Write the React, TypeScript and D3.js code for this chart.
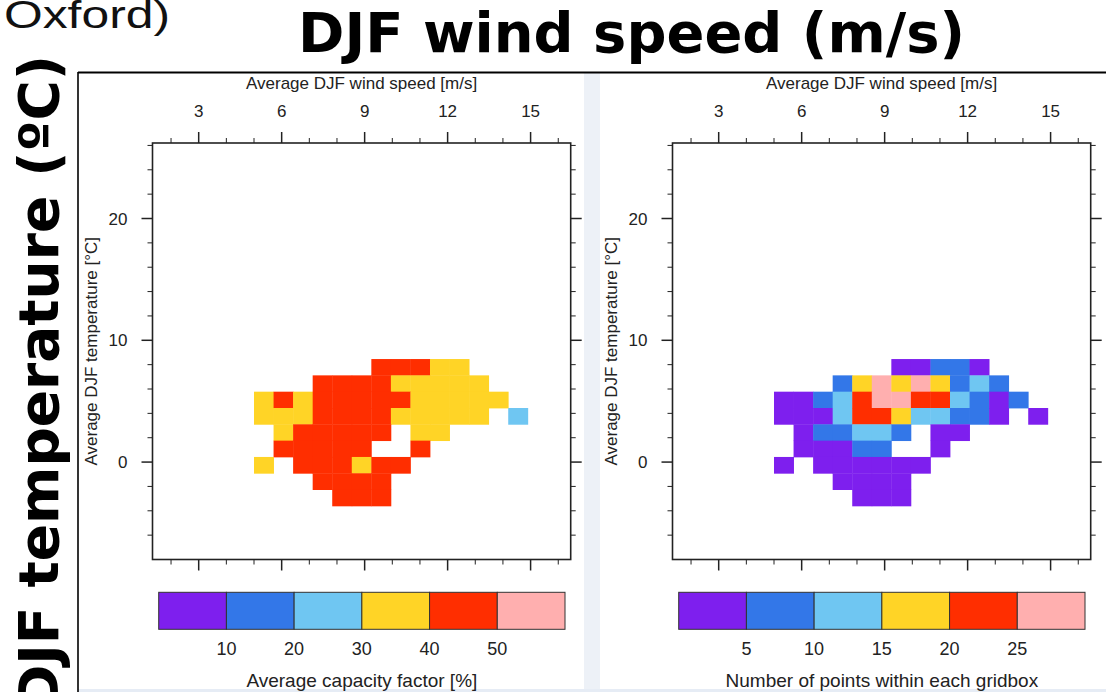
import React from "react";
import * as d3 from "d3";

const _ = null;

// wind speed (m/s) and temperature (degC) axes
const windTicks = [3, 6, 9, 12, 15];
const tempTicks = [0, 10, 20];
const windDomain = [1.33, 16.45];
const tempDomain = [-8, 26.2];

// gridbox layout (data units)
const binX0 = 5.0;
const binW = 0.707;
const binTop = 8.46;
const binH = 1.34;

// average capacity factor [%] per gridbox, rows from warm to cold
const capacityRows = [
  [_, _, _, _, _, _, 45, 45, 45, 35, 35, _, _, _],
  [_, _, _, 45, 45, 45, 45, 35, 35, 35, 35, 35, _, _],
  [35, 45, 35, 45, 45, 45, 45, 45, 35, 35, 35, 35, 35, _],
  [35, 35, 35, 45, 45, 45, 45, 35, 35, 35, 35, 35, _, 25],
  [_, 35, 45, 45, 45, 45, 45, _, 35, 35, _, _, _, _],
  [_, 45, 45, 45, 45, 45, _, _, 45, _, _, _, _, _],
  [35, _, 45, 45, 45, 35, 45, 45, _, _, _, _, _, _],
  [_, _, _, 45, 45, 45, 45, _, _, _, _, _, _, _],
  [_, _, _, _, 45, 45, 45, _, _, _, _, _, _, _],
];

// number of points within each gridbox
const countRows = [
  [_, _, _, _, _, _, 3, 3, 8, 8, 3, _, _, _],
  [_, _, _, 8, 18, 27, 18, 27, 18, 8, 12, 8, _, _],
  [3, 3, 8, 12, 23, 27, 27, 23, 23, 12, 8, 3, 8, _],
  [3, 3, 3, 12, 23, 23, 18, 12, 12, 8, 8, 3, _, 3],
  [_, 3, 8, 8, 12, 12, 8, _, 3, 3, _, _, _, _],
  [_, 3, 3, 3, 8, 8, _, _, 3, _, _, _, _, _],
  [3, _, 3, 3, 3, 3, 3, 3, _, _, _, _, _, _],
  [_, _, _, 3, 3, 3, 3, _, _, _, _, _, _, _],
  [_, _, _, _, 3, 3, 3, _, _, _, _, _, _, _],
];

const palette = ["#7e1fee", "#3377e8", "#6fc6f2", "#ffd426", "#ff2e00", "#ffafaf"];
const capacityLevels = [10, 20, 30, 40, 50];
const countLevels = [5, 10, 15, 20, 25];

const FONT = "'Liberation Sans', Arial, Helvetica, sans-serif";
const BIG = "'DejaVu Sans', Verdana, sans-serif";
const INK = "#222";

const plot = { left: 152.5, right: 570.7, top: 143, bottom: 559.5 };
const bar = { left: 158.7, right: 565, top: 592.3, bottom: 629.3 };

function Panel({ dx, rows, levels, barMax, barTitle }) {
  const x = d3.scaleLinear().domain(windDomain).range([plot.left, plot.right]);
  const y = d3.scaleLinear().domain(tempDomain).range([plot.bottom, plot.top]);
  const color = d3.scaleThreshold().domain(levels).range(palette);
  const bx = d3.scaleLinear().domain([0, barMax]).range([bar.left, bar.right]);
  const edges = [0, ...levels, barMax];

  const minorX = d3.range(2, 17, 1).filter((v) => !windTicks.includes(v));
  const minorY = d3.range(-6, 27, 2).filter((v) => !tempTicks.includes(v));

  const cells = [];
  rows.forEach((row, r) =>
    row.forEach((v, c) => {
      if (v == null) return;
      const x0 = x(binX0 + c * binW);
      const x1 = x(binX0 + (c + 1) * binW);
      const y0 = y(binTop - r * binH);
      const y1 = y(binTop - (r + 1) * binH);
      cells.push(
        <rect key={`${r}-${c}`} x={x0} y={y0} width={x1 - x0 + 0.4} height={y1 - y0 + 0.4} fill={color(v)} />
      );
    })
  );

  const MAJ = 11;
  const MIN = 5;

  return (
    <g transform={`translate(${dx},0)`}>
      {cells}
      <rect
        x={plot.left}
        y={plot.top}
        width={plot.right - plot.left}
        height={plot.bottom - plot.top}
        fill="none"
        stroke={INK}
        strokeWidth={1.6}
      />
      <g stroke={INK}>
        {windTicks.map((t) => (
          <g key={`xm${t}`} strokeWidth={1.5}>
            <line x1={x(t)} x2={x(t)} y1={plot.top} y2={plot.top - MAJ} />
            <line x1={x(t)} x2={x(t)} y1={plot.bottom} y2={plot.bottom + MAJ} />
          </g>
        ))}
        {minorX.map((t) => (
          <g key={`xn${t}`} strokeWidth={1}>
            <line x1={x(t)} x2={x(t)} y1={plot.top} y2={plot.top - MIN} />
            <line x1={x(t)} x2={x(t)} y1={plot.bottom} y2={plot.bottom + MIN} />
          </g>
        ))}
        {tempTicks.map((t) => (
          <g key={`ym${t}`} strokeWidth={1.5}>
            <line x1={plot.left} x2={plot.left - MAJ} y1={y(t)} y2={y(t)} />
            <line x1={plot.right} x2={plot.right + MAJ} y1={y(t)} y2={y(t)} />
          </g>
        ))}
        {minorY.map((t) => (
          <g key={`yn${t}`} strokeWidth={1}>
            <line x1={plot.left} x2={plot.left - MIN} y1={y(t)} y2={y(t)} />
            <line x1={plot.right} x2={plot.right + MIN} y1={y(t)} y2={y(t)} />
          </g>
        ))}
      </g>
      <g fontFamily={FONT} fill={INK} fontSize={17}>
        {windTicks.map((t) => (
          <text key={`xl${t}`} x={x(t)} y={117} textAnchor="middle">
            {t}
          </text>
        ))}
        {tempTicks.map((t) => (
          <text key={`yl${t}`} x={plot.left - 25} y={y(t) + 6} textAnchor="end">
            {t}
          </text>
        ))}
        <text x={(plot.left + plot.right) / 2} y={89} textAnchor="middle">
          Average DJF wind speed [m/s]
        </text>
        <text
          transform={`translate(97,${(plot.top + plot.bottom) / 2}) rotate(-90)`}
          textAnchor="middle"
        >
          Average DJF temperature [°C]
        </text>
      </g>
      {edges.slice(0, -1).map((e, i) => (
        <rect
          key={`cb${i}`}
          x={bx(e)}
          y={bar.top}
          width={bx(edges[i + 1]) - bx(e)}
          height={bar.bottom - bar.top}
          fill={palette[i]}
          stroke="#333"
          strokeWidth={1}
        />
      ))}
      <g fontFamily={FONT} fill={INK}>
        {levels.map((l) => (
          <text key={`cl${l}`} x={bx(l)} y={655} fontSize={18} textAnchor="middle">
            {l}
          </text>
        ))}
        <text x={(bar.left + bar.right) / 2} y={687} fontSize={19} textAnchor="middle">
          {barTitle}
        </text>
      </g>
    </g>
  );
}

export default function App() {
  const W = 1106;
  const H = 692;
  return (
    <div style={{ position: "absolute", left: 0, top: 0, width: W, height: H, overflow: "hidden" }}>
      <svg width={W} height={H} style={{ display: "block", background: "#fff" }}>
        <rect x={584} y={73} width={16} height={H - 73} fill="#edf1f7" />
        <rect x={78} y={689} width={W - 78} height={3} fill="#e6ecf5" />
        <line x1={78} x2={W} y1={72.5} y2={72.5} stroke="#000" strokeWidth={2} />
        <line x1={78} x2={78} y1={72} y2={H} stroke="#000" strokeWidth={1.6} />
        <Panel
          dx={0}
          rows={capacityRows}
          levels={capacityLevels}
          barMax={60}
          barTitle="Average capacity factor [%]"
        />
        <Panel
          dx={520}
          rows={countRows}
          levels={countLevels}
          barMax={30}
          barTitle="Number of points within each gridbox"
        />
        <text
          x={4}
          y={28}
          fontFamily="'Liberation Sans Narrow', 'Liberation Sans', sans-serif"
          fontSize={38}
          textLength={166}
          lengthAdjust="spacingAndGlyphs"
          fill="#111"
        >
          Oxford)
        </text>
        <text
          x={631.5}
          y={52}
          fontFamily={BIG}
          fontWeight="bold"
          fontSize={55}
          textAnchor="middle"
          textLength={667}
          lengthAdjust="spacingAndGlyphs"
          fill="#000"
        >
          DJF wind speed (m/s)
        </text>
        <text
          transform="translate(58,55) rotate(-90)"
          fontFamily={BIG}
          fontWeight="bold"
          fontSize={55}
          textAnchor="end"
          fill="#000"
        >
          DJF temperature (ºC)
        </text>
      </svg>
    </div>
  );
}
